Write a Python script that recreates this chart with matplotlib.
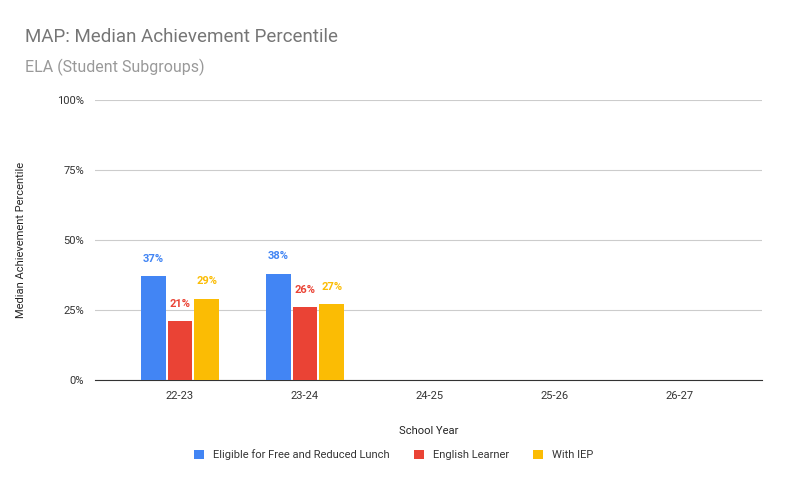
import matplotlib
matplotlib.use("Agg")
import matplotlib.pyplot as plt
import numpy as np

years = ["22-23", "23-24", "24-25", "25-26", "26-27"]
series_names = ["Eligible for Free and Reduced Lunch", "English Learner", "With IEP"]
frl = [37, 38, None, None, None]
el = [21, 26, None, None, None]
iep = [29, 27, None, None, None]
colors = ["#4285F4", "#EA4335", "#FBBC04"]
yticks = [0, 25, 50, 75, 100]
ytick_labels = ["0%", "25%", "50%", "75%", "100%"]

plt.rcParams["font.family"] = "Roboto"
fig = plt.figure(figsize=(7.87, 4.87), dpi=100)
W, H = 787, 487
ax = fig.add_axes([95 / W, 1 - 380 / H, (762 - 95) / W, (380 - 100) / H])

x = np.arange(len(years))
offsets = [-0.213, 0, 0.213]
width = 0.196
for vals, col, off, name in zip([frl, el, iep], colors, offsets, series_names):
    xs = [xi + off for xi, v in zip(x, vals) if v is not None]
    vs = [v for v in vals if v is not None]
    ax.bar(xs, vs, width=width, color=col, label=name, zorder=3)
    for xi, v in zip(xs, vs):
        ax.text(xi, v + 4.5, f"{v}%", ha="center", va="bottom", color=col,
                fontsize=8, fontweight="bold")

ax.set_xlim(-0.68, 4.656)
ax.set_ylim(0, 100)
ax.set_xticks(x)
ax.set_xticklabels(years, fontsize=8, color="#333333")
ax.set_yticks(yticks)
ax.set_yticklabels(ytick_labels, fontsize=8, color="#333333")
ax.tick_params(length=0, pad=8)
ax.grid(axis="y", color="#cccccc", linewidth=0.8, zorder=0)
for s in ["top", "right", "left"]:
    ax.spines[s].set_visible(False)
ax.spines["bottom"].set_color("#333333")
ax.set_xlabel("School Year", fontsize=8, color="#222222", labelpad=18)
ax.set_ylabel("Median Achievement Percentile", fontsize=8, color="#222222", labelpad=22)

fig.text(25 / W, 1 - 37 / H, "MAP: Median Achievement Percentile", fontsize=13.5,
         color="#757575", va="center")
fig.text(25 / W, 1 - 67 / H, "ELA (Student Subgroups)", fontsize=11.5,
         color="#999999", va="center")
fig.legend(loc="center", bbox_to_anchor=(0.5, 1 - 455 / H), ncol=3, frameon=False,
           fontsize=8, handlelength=0.9, handleheight=0.9, columnspacing=2.2,
           labelcolor="#333333")
fig.savefig("out.png", dpi=100)
